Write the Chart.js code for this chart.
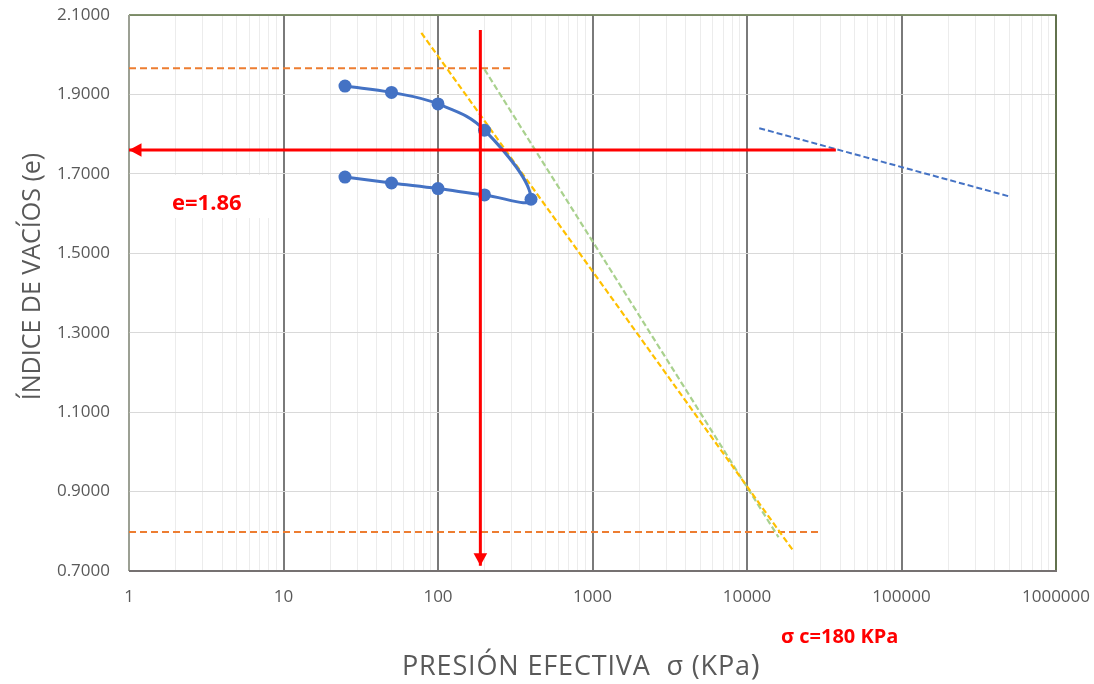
<!DOCTYPE html>
<html><head><meta charset="utf-8">
<script src="https://cdn.jsdelivr.net/npm/chart.js@4.4.1/dist/chart.umd.min.js"></script>
<style>html,body{margin:0;padding:0;background:#fff;overflow:hidden}</style>
</head><body>
<canvas id="c" width="1094" height="684"></canvas>
<script>
// ---- data ----
const curvePressure = [25, 50, 100, 200, 400, 200, 100, 50, 25];
const curveVoid     = [1.921, 1.905, 1.876, 1.810, 1.636, 1.647, 1.663, 1.677, 1.692];

const topLineP = [1, 300];        const topLineE = [1.966, 1.966];
const bottomLineP = [1, 30000];   const bottomLineE = [0.798, 0.798];
const yellowP = [78, 20000];      const yellowE = [2.055, 0.750];
const greenP = [200, 16000];      const greenE = [1.963, 0.785];
const blueDashP = [12000, 500000];const blueDashE = [1.815, 1.643];
const redHorizP = [37600, 1];     const redHorizE = [1.760, 1.760];
const redVertP = [188, 188];      const redVertE = [2.062, 0.713];

const xDecadeTicks = [1, 10, 100, 1000, 10000, 100000, 1000000];
const xMinorFactors = [2, 3, 4, 5, 6, 7, 8, 9];
const yTicks = [0.7, 0.9, 1.1, 1.3, 1.5, 1.7, 1.9, 2.1];

const labelE = 'e=1.86';
const labelSigma = 'σ c=180 KPa';
const xTitle = 'PRESIÓN EFECTIVA  σ (KPa';
const xTitleClose = ')';
const yTitle = 'ÍNDICE DE VACÍOS (e)';

function pts(xs, ys) { return xs.map((x, i) => ({ x: x, y: ys[i] })); }

const xTickValues = [];
xDecadeTicks.forEach((d, i) => {
  xTickValues.push(d);
  if (i < xDecadeTicks.length - 1) xMinorFactors.forEach(f => xTickValues.push(d * f));
});

const dashed = (color, w, dash) => ({
  type: 'scatter', showLine: true, borderColor: color, backgroundColor: color,
  borderWidth: w, borderDash: dash, pointRadius: 0, tension: 0, fill: false
});

const datasets = [
  Object.assign({ data: pts(redHorizP, redHorizE), arrow: true }, dashed('#ff0000', 3, [])),
  Object.assign({ data: pts(redVertP, redVertE), arrow: true }, dashed('#ff0000', 3, [])),
  {
    type: 'scatter', data: pts(curvePressure, curveVoid), showLine: true,
    borderColor: '#4472c4', backgroundColor: '#4472c4', borderWidth: 3,
    pointRadius: 6.5, pointBorderWidth: 0, tension: 0.4, fill: false
  },
  Object.assign({ data: pts(blueDashP, blueDashE) }, dashed('#4472c4', 2, [6, 3])),
  Object.assign({ data: pts(yellowP, yellowE) }, dashed('#ffc000', 2.2, [6, 3])),
  Object.assign({ data: pts(greenP, greenE) }, dashed('#a9d18e', 2.2, [6, 3])),
  Object.assign({ data: pts(topLineP, topLineE) }, dashed('#ed7d31', 2, [7, 4])),
  Object.assign({ data: pts(bottomLineP, bottomLineE) }, dashed('#ed7d31', 2, [7, 4]))
];

const boxPlugin = {
  id: 'boxPlugin',
  beforeDatasetsDraw(chart) {
    const ctx = chart.ctx, a = chart.chartArea;
    ctx.save();
    // text box of the e label (white fill)
    ctx.fillStyle = '#ffffff';
    ctx.fillRect(165, 175, 107, 43);
    ctx.fillStyle = '#ff0000';
    ctx.font = 'bold 22px "Open Sans"';
    ctx.textAlign = 'left'; ctx.textBaseline = 'alphabetic';
    ctx.fillText(labelE, 172, 209.5);
    // frame
    ctx.lineWidth = 1.5;
    ctx.strokeStyle = '#5b7040';
    ctx.beginPath(); ctx.moveTo(a.left, a.top); ctx.lineTo(a.right, a.top); ctx.lineTo(a.right, a.bottom); ctx.stroke();
    ctx.strokeStyle = '#a8ae9e';
    ctx.beginPath(); ctx.moveTo(a.left, a.top); ctx.lineTo(a.left, a.bottom); ctx.stroke();
    ctx.lineWidth = 2.2;
    ctx.strokeStyle = '#767171';
    ctx.beginPath(); ctx.moveTo(a.left, a.bottom); ctx.lineTo(a.right + 1, a.bottom); ctx.stroke();
    ctx.restore();
  }
};

const arrowPlugin = {
  id: 'arrowPlugin',
  afterDatasetsDraw(chart) {
    const ctx = chart.ctx;
    chart.data.datasets.forEach((ds, i) => {
      if (!ds.arrow) return;
      const pts = chart.getDatasetMeta(i).data;
      const p1 = pts[pts.length - 2], p2 = pts[pts.length - 1];
      const ang = Math.atan2(p2.y - p1.y, p2.x - p1.x);
      const L = 12.5, W = 6.8;
      ctx.save();
      ctx.translate(p2.x, p2.y); ctx.rotate(ang);
      ctx.fillStyle = ds.borderColor;
      ctx.beginPath(); ctx.moveTo(0, 0); ctx.lineTo(-L, -W); ctx.lineTo(-L, W); ctx.closePath(); ctx.fill();
      ctx.restore();
    });
  }
};

const textPlugin = {
  id: 'textPlugin',
  afterDraw(chart) {
    const ctx = chart.ctx;
    ctx.save();
    ctx.fillStyle = '#595959';
    ctx.textBaseline = 'alphabetic';
    // x title
    ctx.textAlign = 'left';
    ctx.font = '27px "Open Sans"';
    try { ctx.letterSpacing = '0.85px'; } catch (e) {}
    ctx.fillText(xTitle, 402, 675);
    const w = ctx.measureText(xTitle).width;
    ctx.font = '30px "Open Sans"';
    ctx.fillText(xTitleClose, 402 + w, 675);
    try { ctx.letterSpacing = '0px'; } catch (e) {}
    // y title
    ctx.save();
    ctx.translate(39.5, 276.5); ctx.rotate(-Math.PI / 2);
    ctx.textAlign = 'center';
    ctx.font = '25px "Open Sans"';
    ctx.fillText(yTitle, 0, 0);
    ctx.restore();
    // sigma c label
    ctx.fillStyle = '#ff0000';
    ctx.textAlign = 'left';
    ctx.font = 'bold 20px "Open Sans"';
    ctx.fillText(labelSigma, 781, 642.5);
    ctx.restore();
  }
};

new Chart(document.getElementById('c'), {
  type: 'scatter',
  data: { datasets: datasets },
  options: {
    responsive: false, animation: false, devicePixelRatio: 1,
    layout: { padding: { top: 15, right: 38, left: 0, bottom: 0 } },
    plugins: { legend: { display: false }, tooltip: { enabled: false }, title: { display: false } },
    scales: {
      x: {
        type: 'logarithmic', min: 1, max: 1000000,
        afterFit(s) { s.height = 113; s.paddingLeft = 0; s.paddingRight = 0; },
        afterBuildTicks(s) { s.ticks = xTickValues.map(v => ({ value: v })); },
        border: { display: false },
        grid: {
          drawTicks: false,
          color: c => xDecadeTicks.includes(c.tick && c.tick.value) ? '#7a7a7a' : '#ececec',
          lineWidth: c => xDecadeTicks.includes(c.tick && c.tick.value) ? 2 : 1
        },
        ticks: {
          autoSkip: false, maxRotation: 0, minRotation: 0, padding: 16,
          color: '#595959', font: { family: 'Open Sans', size: 17 },
          callback: v => xDecadeTicks.includes(v) ? String(v) : ''
        }
      },
      y: {
        type: 'linear', min: 0.7, max: 2.1,
        afterFit(s) { s.width = 129; s.paddingTop = 0; s.paddingBottom = 0; },
        afterBuildTicks(s) { s.ticks = yTicks.map(v => ({ value: v })); },
        border: { display: false },
        grid: { drawTicks: false, color: '#d9d9d9', lineWidth: 1 },
        ticks: {
          padding: 19, color: '#595959', font: { family: 'Open Sans', size: 17 },
          callback: v => Number(v).toFixed(4)
        }
      }
    }
  },
  plugins: [boxPlugin, arrowPlugin, textPlugin]
});
</script>
</body></html>
